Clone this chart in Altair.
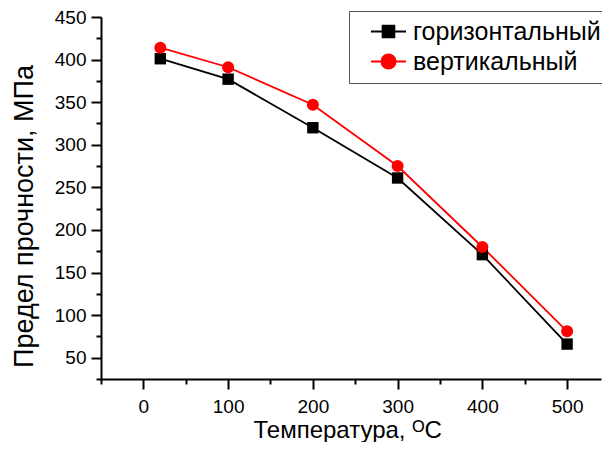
import altair as alt
import pandas as pd

# ---- data ----
temps = [20, 100, 200, 300, 400, 500]
horiz = [401, 377, 320, 261, 171, 66]
vert = [414, 391, 347, 275, 180, 81]
series = ["горизонтальный", "вертикальный"]
colors = ["#000000", "#ff0000"]

x_major = [0, 100, 200, 300, 400, 500]
x_minor = [-50, 50, 150, 250, 350, 450, 550]
y_major = [50, 100, 150, 200, 250, 300, 350, 400, 450]
y_minor = [25, 75, 125, 175, 225, 275, 325, 375, 425]

df = pd.DataFrame({
    "T": temps + temps,
    "v": horiz + vert,
    "s": [series[0]] * len(temps) + [series[1]] * len(temps),
})

FONT = "Liberation Sans"
xs = alt.Scale(domain=[-50, 540], nice=False, zero=False)
ys = alt.Scale(domain=[25, 450], nice=False, zero=False)

common_axis = dict(domainColor="black", domainWidth=2, tickColor="black", tickWidth=2,
                   labelColor="black", labelFont=FONT, labelFontSize=19,
                   titleColor="black", titleFont=FONT,
                   titleFontWeight="normal", grid=False)

x_axis = alt.Axis(orient="bottom", values=x_major, tickSize=10, labelPadding=8,
                  title="Температура, ᴼC", titleFontSize=24, titleAlign="left",
                  titleBaseline="alphabetic", titleX=152, titleY=58, **common_axis)
y_axis = alt.Axis(orient="left", values=y_major, tickSize=10, labelPadding=5,
                  title="Предел прочности, МПа", titleFontSize=27, titleAngle=270,
                  titleAlign="center", titleBaseline="alphabetic",
                  titleX=-69, titleY=199, **common_axis)
x_axis_minor = alt.Axis(orient="bottom", values=x_minor, tickSize=5, labels=False,
                        title=None, domain=False, tickColor="black", tickWidth=2, grid=False)
y_axis_minor = alt.Axis(orient="left", values=y_minor, tickSize=5, labels=False,
                        title=None, domain=False, tickColor="black", tickWidth=2, grid=False)

base = alt.Chart(df)

axes_major = base.mark_point(opacity=0).encode(
    x=alt.X("T:Q", scale=xs, axis=x_axis),
    y=alt.Y("v:Q", scale=ys, axis=y_axis),
)
axes_minor = base.mark_point(opacity=0).encode(
    x=alt.X("T:Q", scale=xs, axis=x_axis_minor),
    y=alt.Y("v:Q", scale=ys, axis=y_axis_minor),
)


def xy():
    return dict(x=alt.X("T:Q", scale=xs, axis=None), y=alt.Y("v:Q", scale=ys, axis=None))


line_h = base.transform_filter(alt.datum.s == series[0]).mark_line(
    color=colors[0], strokeWidth=1.8).encode(**xy())
line_v = base.transform_filter(alt.datum.s == series[1]).mark_line(
    color=colors[1], strokeWidth=1.8).encode(**xy())
pts_h = base.transform_filter(alt.datum.s == series[0]).mark_point(
    shape="square", filled=True, size=130, color=colors[0], opacity=1).encode(**xy())
pts_v = base.transform_filter(alt.datum.s == series[1]).mark_point(
    shape="circle", filled=True, size=145, color=colors[1], opacity=1).encode(**xy())

sym_square = "M-1.75,0H1.75M-0.58,-0.58H0.58V0.58H-0.58Z"
sym_circle = "M-1.75,0H1.75M-0.7,0A0.7,0.7,0,1,1,0.7,0A0.7,0.7,0,1,1,-0.7,0Z"

leg = alt.Legend(title=None, orient="none", legendX=248, legendY=-6,
                 strokeColor="#555555", fillColor="white", padding=8,
                 labelFont=FONT, labelFontSize=25, labelColor="black", labelLimit=400,
                 labelOffset=12, symbolSize=400, symbolStrokeWidth=2,
                 symbolOpacity=1, symbolOffset=19, rowPadding=4)

legend_layer = base.mark_point(opacity=0, filled=True).encode(
    **xy(),
    fill=alt.Fill("s:N", scale=alt.Scale(domain=series, range=colors), legend=leg),
    stroke=alt.Stroke("s:N", scale=alt.Scale(domain=series, range=colors), legend=leg),
    shape=alt.Shape("s:N", scale=alt.Scale(domain=series, range=[sym_square, sym_circle]), legend=leg),
)

chart = alt.layer(
    axes_minor, axes_major, line_h, line_v, pts_h, pts_v, legend_layer
).resolve_axis(
    x="independent", y="independent"
).properties(
    width=500, height=362,
    padding={"left": 93, "top": 9, "right": 1, "bottom": 63},
    autosize=alt.AutoSizeParams(type="none"),
).configure_view(stroke=None)

chart.save("out.html", embed_options={"renderer": "svg", "actions": False})
